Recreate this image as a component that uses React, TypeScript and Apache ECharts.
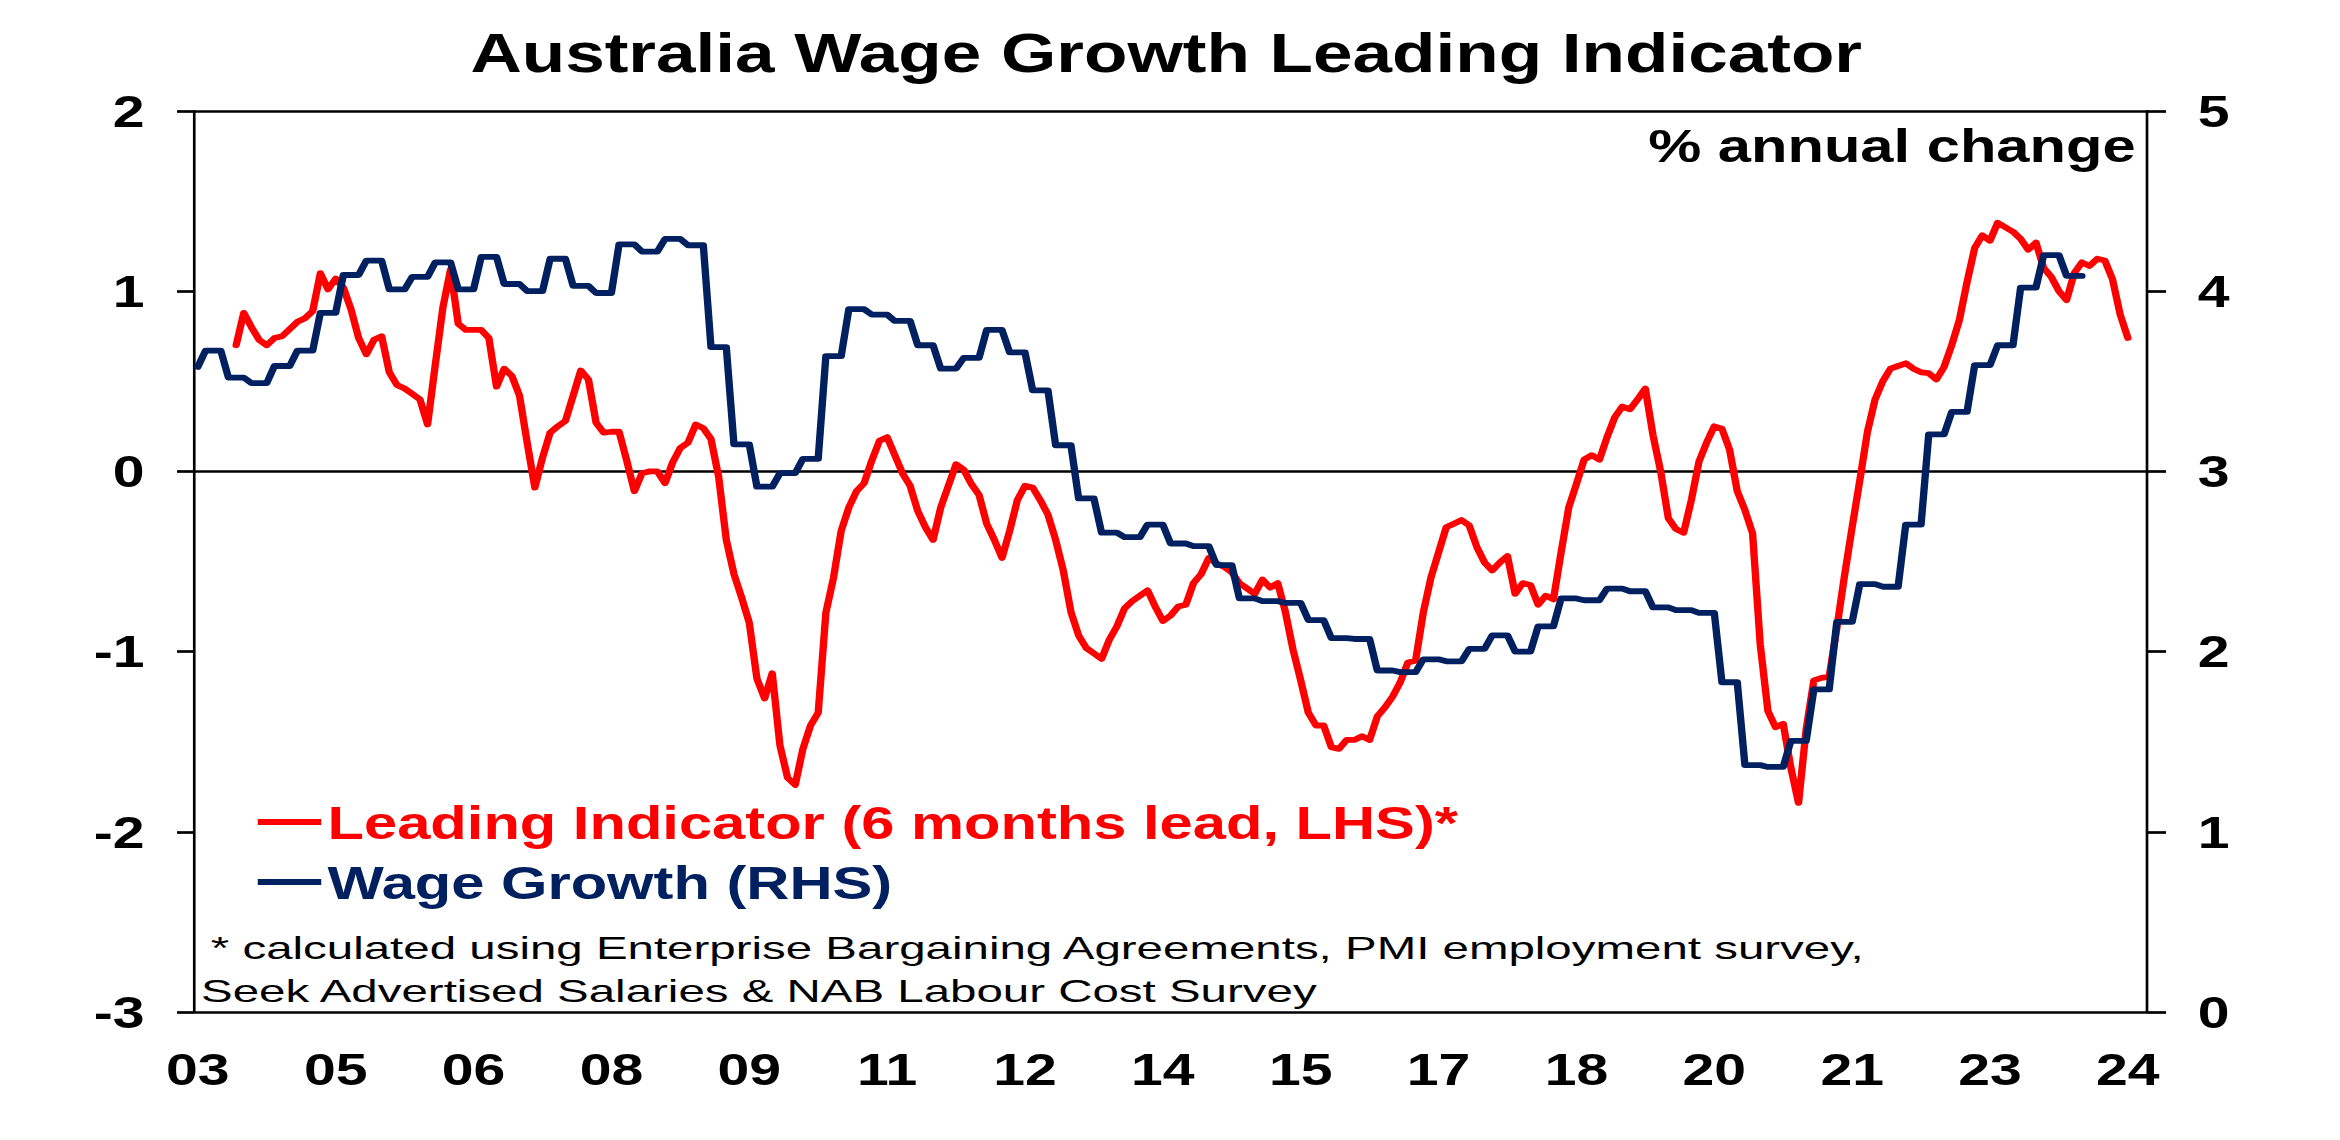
import React, { useEffect, useRef } from "react";
import * as echarts from "echarts";

// ---------- data ----------
// Monthly categories: Dec 2003 .. Feb 2025 (255 months)
const START_YEAR = 2003;
const START_MONTH = 12;
const MONTH_COUNT = 255;

// x-axis tick labels, one every 18 months starting Dec 2003
const xTickLabels = ["03", "05", "06", "08", "09", "11", "12", "14", "15", "17", "18", "20", "21", "23", "24"];
const X_TICK_STEP = 18;

// Leading indicator (LHS), monthly, first value = May 2004 (month index 5)
const leadStartIndex = 5;
const leadingIndicator = [
  0.70, 0.88, 0.80, 0.73, 0.70, 0.74, 0.75, 0.79, 0.83, 0.85,
  0.89, 1.10, 1.01, 1.07, 1.02, 0.90, 0.74, 0.65, 0.73, 0.75,
  0.55, 0.48, 0.46, 0.43, 0.40, 0.26, 0.59, 0.91, 1.12, 0.82,
  0.785, 0.785, 0.785, 0.74, 0.47, 0.57, 0.53, 0.42, 0.16, -0.09,
  0.075, 0.215, 0.25, 0.28, 0.42, 0.56, 0.51, 0.27, 0.215, 0.22,
  0.22, 0.06, -0.11, -0.01, 0.00, 0.00, -0.065, 0.05, 0.13, 0.16,
  0.26, 0.24, 0.18, -0.03, -0.38, -0.57, -0.70, -0.84, -1.15, -1.26,
  -1.12, -1.52, -1.70, -1.74, -1.54, -1.41, -1.34, -0.785, -0.59, -0.33,
  -0.20, -0.11, -0.065, 0.06, 0.17, 0.19, 0.09, -0.01, -0.08, -0.22,
  -0.31, -0.38, -0.20, -0.08, 0.04, 0.01, -0.07, -0.13, -0.29, -0.38,
  -0.48, -0.33, -0.16, -0.08, -0.09, -0.16, -0.24, -0.38, -0.55, -0.78,
  -0.91, -0.98, -1.01, -1.04, -0.935, -0.86, -0.76, -0.72, -0.69, -0.66,
  -0.75, -0.83, -0.80, -0.75, -0.74, -0.62, -0.57, -0.48, -0.51, -0.53,
  -0.56, -0.62, -0.65, -0.68, -0.60, -0.645, -0.62, -0.78, -0.99, -1.16,
  -1.34, -1.41, -1.41, -1.53, -1.54, -1.49, -1.49, -1.47, -1.49, -1.36,
  -1.31, -1.25, -1.17, -1.06, -1.05, -0.785, -0.59, -0.45, -0.31, -0.29,
  -0.27, -0.30, -0.42, -0.505, -0.55, -0.505, -0.47, -0.68, -0.62, -0.63,
  -0.74, -0.69, -0.71, -0.45, -0.20, -0.07, 0.065, 0.09, 0.065, 0.19,
  0.30, 0.36, 0.345, 0.40, 0.46, 0.20, 0.00, -0.26, -0.32, -0.34,
  -0.16, 0.054, 0.16, 0.25, 0.237, 0.12, -0.11, -0.215, -0.344, -0.96,
  -1.33, -1.42, -1.40, -1.645, -1.84, -1.43, -1.16, -1.146, -1.14, -0.87,
  -0.58, -0.31, -0.05, 0.22, 0.40, 0.50, 0.57, 0.585, 0.60, 0.57,
  0.55, 0.545, 0.51, 0.58, 0.70, 0.84, 1.05, 1.24, 1.31, 1.28,
  1.38, 1.355, 1.33, 1.29, 1.23, 1.27, 1.13, 1.08, 1.00, 0.95,
  1.10, 1.16, 1.14, 1.18, 1.17, 1.065, 0.87, 0.74,
];

// Wage growth (RHS), quarterly: Q4 2003 .. Q2 2024, plotted monthly
const wageGrowthQuarterly = [
  3.58,
  3.67, 3.52, 3.49, 3.585, 3.67, 3.88, 4.09, 4.17, 4.01, 4.08,
  4.16, 4.01, 4.19, 4.04, 4.00, 4.18, 4.03, 3.99, 4.26, 4.22,
  4.29, 4.255, 3.69, 3.15, 2.915, 2.99, 3.07, 3.64, 3.90, 3.87,
  3.835, 3.70, 3.57, 3.63, 3.785, 3.66, 3.45, 3.145, 2.85, 2.66,
  2.635, 2.705, 2.60, 2.585, 2.48, 2.295, 2.28, 2.27, 2.175, 2.075,
  2.07, 1.895, 1.886, 1.957, 1.946, 2.015, 2.09, 2.00, 2.14, 2.295,
  2.285, 2.35, 2.335, 2.245, 2.23, 2.215, 1.83, 1.37, 1.36, 1.505,
  1.79, 2.165, 2.375, 2.36, 2.705, 3.205, 3.33, 3.59, 3.70, 4.02,
  4.20, 4.085,
];

const leftTicks = [-3, -2, -1, 0, 1, 2];

// ---------- layout constants ----------
const PRE_W = 1843;
const H = 1140;
const STRETCH = 2340 / PRE_W;
const FONT = '"Liberation Sans", Arial, Helvetica, sans-serif';
const RED = "#FF0000";
const NAVY = "#002060";

function buildOption() {
  const categories: string[] = [];
  for (let i = 0; i < MONTH_COUNT; i++) {
    const t = START_MONTH - 1 + i;
    const y = START_YEAR + Math.floor(t / 12);
    const m = (t % 12) + 1;
    categories.push(`${y}-${m < 10 ? "0" + m : m}`);
  }
  const redData: (number | null)[] = categories.map((_, i) => {
    const k = i - leadStartIndex;
    return k >= 0 && k < leadingIndicator.length ? leadingIndicator[k] : null;
  });
  const blueData: (number | null)[] = categories.map((_, i) => {
    const q = Math.floor((i + 2) / 3);
    return q < wageGrowthQuarterly.length ? wageGrowthQuarterly[q] : null;
  });

  const transparent = "rgba(0,0,0,0)";
  const splitColors = leftTicks.map((v) => (v === 0 || v === 2 || v === -3 ? "#000000" : transparent));

  return {
    animation: false,
    backgroundColor: "#ffffff",
    grid: { left: 152.8, right: 152, top: 111, bottom: 128, containLabel: false },
    legend: {
      orient: "vertical",
      left: 203,
      top: 797,
      padding: 0,
      itemGap: 10,
      itemWidth: 50,
      itemHeight: 6,
      icon: "rect",
      textStyle: { fontFamily: FONT, fontWeight: "bold", fontSize: 47, lineHeight: 50 },
      data: [
        { name: "Leading Indicator (6 months lead, LHS)*", textStyle: { color: RED } },
        { name: "Wage Growth (RHS)", textStyle: { color: NAVY } },
      ],
    },
    xAxis: {
      type: "category",
      data: categories,
      boundaryGap: true,
      axisLine: { show: false, onZero: false },
      axisTick: { show: false },
      splitLine: { show: false },
      axisLabel: {
        interval: (index: number) => index % X_TICK_STEP === 0 && index / X_TICK_STEP < xTickLabels.length,
        formatter: (_v: string, index: number) => xTickLabels[Math.round(index / X_TICK_STEP)] ?? "",
        fontFamily: FONT,
        fontWeight: "bold",
        fontSize: 45,
        color: "#000",
        margin: 57,
        verticalAlign: "middle",
      },
    },
    yAxis: [
      {
        type: "value",
        position: "left",
        min: -3,
        max: 2,
        interval: 1,
        axisLine: { show: true, lineStyle: { color: "#000", width: 2.1 } },
        axisTick: { show: true, inside: false, length: 13.4, lineStyle: { color: "#000", width: 2.7 } },
        axisLabel: { fontFamily: FONT, fontWeight: "bold", fontSize: 45, color: "#000", margin: 39 },
        splitLine: { show: true, lineStyle: { color: splitColors, width: 2.7 } },
      },
      {
        type: "value",
        position: "right",
        min: 0,
        max: 5,
        interval: 1,
        axisLine: { show: true, lineStyle: { color: "#000", width: 2.1 } },
        axisTick: { show: true, inside: false, length: 15, lineStyle: { color: "#000", width: 2.7 } },
        axisLabel: { fontFamily: FONT, fontWeight: "bold", fontSize: 45, color: "#000", margin: 40 },
        splitLine: { show: false },
      },
    ],
    series: [
      {
        name: "Leading Indicator (6 months lead, LHS)*",
        type: "line",
        yAxisIndex: 0,
        data: redData,
        showSymbol: false,
        symbol: "none",
        smooth: false,
        connectNulls: false,
        color: RED,
        lineStyle: { color: RED, width: 5.8, join: "round", cap: "round" },
        z: 2,
      },
      {
        name: "Wage Growth (RHS)",
        type: "line",
        yAxisIndex: 1,
        data: blueData,
        showSymbol: false,
        symbol: "none",
        smooth: false,
        connectNulls: false,
        color: NAVY,
        lineStyle: { color: NAVY, width: 5.8, join: "round", cap: "round" },
        z: 3,
      },
    ],
    graphic: [
      {
        type: "text",
        x: 918.5,
        y: 53,
        style: {
          text: "Australia Wage Growth Leading Indicator",
          fontFamily: FONT,
          fontWeight: "bold",
          fontSize: 56,
          fill: "#000",
          align: "center",
          textAlign: "center",
          verticalAlign: "middle",
          textVerticalAlign: "middle",
        },
      },
      {
        type: "text",
        x: 1682,
        y: 145,
        style: {
          text: "% annual change",
          fontFamily: FONT,
          fontWeight: "bold",
          fontSize: 47,
          fill: "#000",
          align: "right",
          textAlign: "right",
          verticalAlign: "middle",
          textVerticalAlign: "middle",
        },
      },
      {
        type: "text",
        x: 166,
        y: 948,
        scaleX: 1.168,
        style: {
          text: "* calculated using Enterprise Bargaining Agreements, PMI employment survey,",
          fontFamily: FONT,
          fontSize: 32,
          fill: "#000",
          align: "left",
          textAlign: "left",
          verticalAlign: "middle",
          textVerticalAlign: "middle",
        },
      },
      {
        type: "text",
        x: 158.3,
        y: 991,
        scaleX: 1.168,
        style: {
          text: "Seek Advertised Salaries & NAB Labour Cost Survey",
          fontFamily: FONT,
          fontSize: 32,
          fill: "#000",
          align: "left",
          textAlign: "left",
          verticalAlign: "middle",
          textVerticalAlign: "middle",
        },
      },
    ],
  };
}

export default function App() {
  const ref = useRef<HTMLDivElement>(null);
  useEffect(() => {
    document.body.style.margin = "0";
    document.body.style.overflow = "hidden";
    const chart = echarts.init(ref.current as HTMLDivElement, null, { renderer: "svg" });
    chart.setOption(buildOption() as any);
    return () => chart.dispose();
  }, []);
  return (
    <div
      ref={ref}
      style={{
        position: "absolute",
        left: 0,
        top: 0,
        width: PRE_W,
        height: H,
        transform: `scaleX(${STRETCH})`,
        transformOrigin: "0 0",
        background: "#fff",
      }}
    />
  );
}
